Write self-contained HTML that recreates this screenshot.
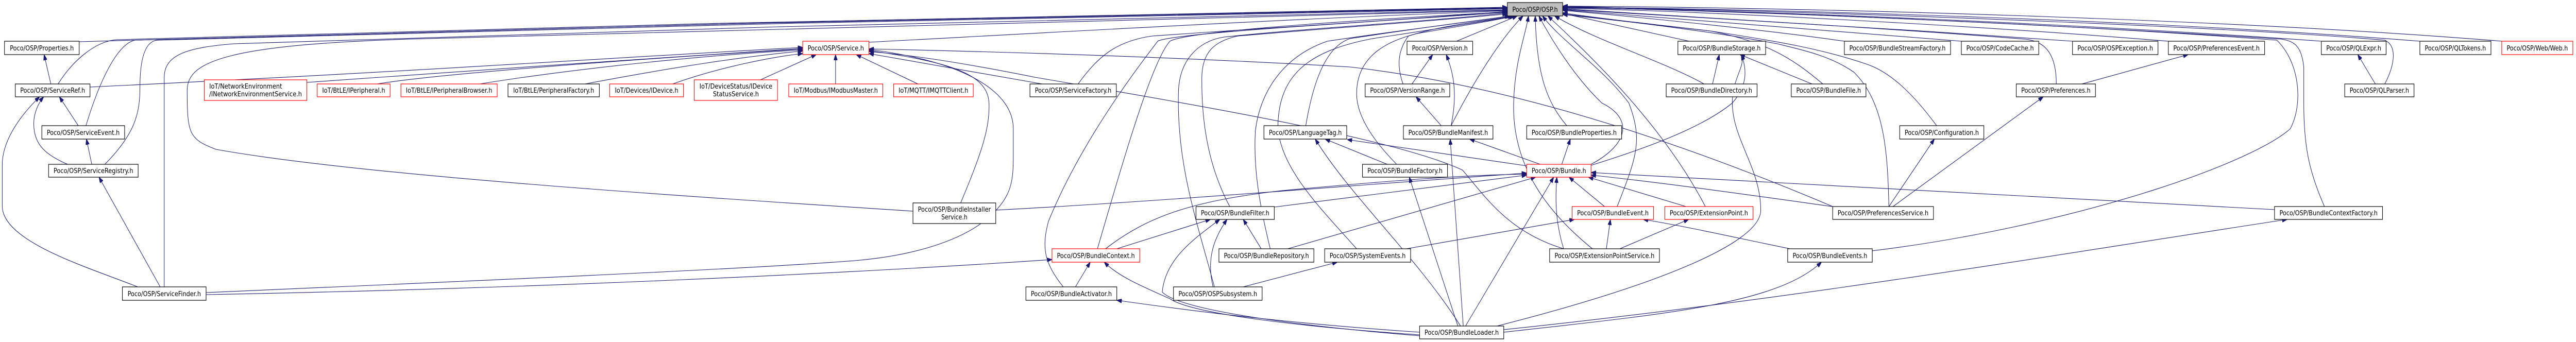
<!DOCTYPE html>
<html><head><meta charset="utf-8"><style>
html,body{margin:0;padding:0;background:#fff;width:100%;height:100%;overflow:hidden;}
svg{display:block;position:absolute;left:0;top:0;width:100vw;height:100vh;}
text{font-family:"DejaVu Sans","Liberation Sans",sans-serif;font-size:13px;fill:#000;}
.n{fill:#fff;stroke:#000;stroke-width:1.2;}
.r{fill:#fff;stroke:#ff0000;stroke-width:1.2;}
.g{fill:#bfbfbf;stroke:#000;stroke-width:1.2;}
path{fill:none;stroke:#191970;stroke-width:1.1;marker-end:url(#a);}
</style></head><body>
<svg viewBox="0 0 5725 664" preserveAspectRatio="none" xmlns="http://www.w3.org/2000/svg" overflow="hidden">
<defs><marker id="a" markerUnits="userSpaceOnUse" markerWidth="11" markerHeight="8" refX="11" refY="4" orient="auto"><polygon points="0,0 11,4 0,8" fill="#191970" stroke="#191970"/></marker></defs>
<g>
<path d="M176,81 C900,60 2500,25 3350,14"/>
<path d="M129,163 C160,120 210,80 260,77 C1200,50 2600,25 3350,15"/>
<path d="M191,244 C220,160 260,85 300,78 C1200,52 2600,26 3350,16"/>
<path d="M233,319 C300,260 311,220 311,170 C311,120 320,80 350,78 C1200,55 2600,27 3350,17"/>
<path d="M365,557 L365,150 C365,105 420,92 520,85 C1400,58 2600,30 3350,19"/>
<path d="M2029,410 C1500,380 800,340 480,290 C420,270 416,260 416,175 C416,120 500,85 950,75 C1800,55 2700,35 3350,20"/>
<path d="M1931,82 C2400,60 2900,35 3350,21"/>
<path d="M2396,163 C2440,110 2480,80 2560,70 C2800,55 3100,40 3350,22"/>
<path d="M2439,483 C2500,300 2560,120 2600,80 C2640,60 3000,40 3350,23"/>
<path d="M2363,557 C2320,510 2315,480 2330,430 C2400,280 2520,140 2573,80 C2600,65 3000,45 3350,24"/>
<path d="M2699,557 C2660,430 2615,320 2619,180 C2620,120 2660,80 2720,72 C2900,55 3200,40 3350,25"/>
<path d="M2733,401 C2690,330 2670,250 2671,150 C2672,100 2700,80 2750,70 C2950,55 3200,40 3350,27"/>
<path d="M2823,483 C2800,400 2785,330 2790,254 C2800,180 2850,110 2950,80 C3100,60 3250,45 3355,31"/>
<path d="M2902,244 C2920,150 2950,90 3000,75 C3150,55 3280,40 3358,31"/>
<path d="M3015,483 C2930,400 2850,330 2840,250 C2840,150 2900,100 3050,75 C3200,55 3300,42 3362,31"/>
<path d="M3104,319 C3060,280 3015,230 3015,182 C3015,110 3080,80 3150,65 C3250,50 3320,40 3365,31"/>
<path d="M3118,163 C3105,130 3105,100 3130,70 C3200,50 3300,40 3368,31"/>
<path d="M3237,80 L3372,31"/>
<path d="M3225,244 C3280,150 3340,70 3385,31"/>
<path d="M3539,483 C3450,420 3360,330 3364,200 C3366,120 3390,70 3397,31"/>
<path d="M3482,244 C3440,200 3415,150 3412,31"/>
<path d="M3594,401 C3640,300 3650,270 3620,200 C3560,130 3470,80 3428,31"/>
<path d="M3536,319 C3620,280 3630,230 3560,200 C3500,150 3450,80 3420,31"/>
<path d="M3790,401 C3700,250 3550,120 3440,31"/>
<path d="M3787,163 C3700,120 3550,80 3455,31"/>
<path d="M3754,80 C3650,60 3550,40 3473,26"/>
<path d="M4099,80 C3900,55 3600,30 3473,20"/>
<path d="M4359,80 C4000,55 3650,30 3473,19"/>
<path d="M4606,80 C4200,55 3700,28 3473,18"/>
<path d="M4051,163 C3980,110 3920,80 3800,60 C3650,45 3550,35 3473,25"/>
<path d="M4198,401 C4195,300 4190,200 4120,140 C4070,110 4020,100 3950,85 C3800,60 3600,40 3473,27"/>
<path d="M4304,244 C4250,180 4200,140 4150,125 C4050,95 3950,80 3800,60 C3650,45 3550,35 3473,28"/>
<path d="M4570,163 C4570,110 4550,80 4500,76 C4200,55 3700,30 3473,17"/>
<path d="M4819,80 C4400,50 3800,22 3473,16"/>
<path d="M5159,80 C4600,45 3900,20 3473,15"/>
<path d="M5378,80 C4800,40 4000,18 3473,14"/>
<path d="M5560,80 C5000,40 4100,15 3473,12"/>
<path d="M5300,163 C5320,130 5330,90 5300,78 C5000,55 4200,25 3473,13"/>
<path d="M5166,401 C5130,330 5120,280 5120,200 L5120,130 C5115,90 5100,80 5070,76 C4600,50 4000,25 3473,12"/>
<path d="M4161,487 C4600,440 5000,320 5090,250 C5120,200 5110,120 5060,78 C4600,48 4000,25 3473,14"/>
<path d="M200,169 C900,140 1400,110 1784,92"/>
<path d="M682,160 C1000,140 1500,110 1784,94"/>
<path d="M838,163 C1000,140 1500,110 1784,95"/>
<path d="M1066,163 C1300,130 1600,105 1784,97"/>
<path d="M1300,163 C1500,130 1650,110 1784,99"/>
<path d="M1495,163 C1600,130 1720,110 1784,104"/>
<path d="M1690,155 L1814,106"/>
<path d="M1857,163 L1857,106"/>
<path d="M2040,163 L1903,106"/>
<path d="M2316,163 L1931,104"/>
<path d="M2135,394 C2180,300 2200,250 2198,200 C2195,140 2100,120 1931,98"/>
<path d="M458,568 C1200,540 1700,520 1900,506 C2050,495 2150,460 2200,420 C2250,380 2252,350 2252,300 L2252,250 C2252,180 2150,120 1931,96"/>
<path d="M4073,401 C3800,300 3400,170 3000,130 C2600,110 2200,100 1931,95"/>
<path d="M3475,483 C3350,450 3300,380 3250,330 C3100,270 2700,210 2300,150 C2100,115 2000,105 1931,100"/>
<path d="M458,572 C1200,560 1900,530 2338,504"/>
<path d="M174,244 L132,188"/>
<path d="M150,319 C100,300 75,280 75,240 C75,220 85,200 97,188"/>
<path d="M306,557 C200,520 5,470 5,400 L5,320 C5,270 50,220 88,188"/>
<path d="M113,163 L98,106"/>
<path d="M204,319 L192,270"/>
<path d="M356,557 L220,344"/>
<path d="M3155,645 C2900,630 2700,610 2482,583"/>
<path d="M3155,650 C2900,635 2650,610 2600,580 C2550,560 2490,540 2454,509"/>
<path d="M3155,652 C2850,630 2620,600 2583,567 C2590,500 2660,460 2711,426"/>
<path d="M3246,633 C3150,500 3000,380 2923,270"/>
<path d="M3240,633 L3132,344"/>
<path d="M3252,633 L3223,270"/>
<path d="M3257,633 L3453,344"/>
<path d="M3342,640 C4000,580 4600,490 5083,426"/>
<path d="M3342,645 C3700,610 3950,590 4048,509"/>
<path d="M3327,633 C3700,550 3910,470 3913,410 C3915,330 3850,270 3850,200 C3850,150 3880,130 3870,106"/>
<path d="M2213,408 C2600,390 3000,360 3393,336"/>
<path d="M2457,483 C2550,420 2650,390 2850,370 C3100,350 3250,340 3393,338"/>
<path d="M2832,402 L3393,340"/>
<path d="M2862,483 L3413,344"/>
<path d="M3566,401 L3487,344"/>
<path d="M3747,401 L3530,344"/>
<path d="M3475,483 C3460,440 3455,400 3460,344"/>
<path d="M4072,401 C3900,380 3700,355 3536,340"/>
<path d="M5055,407 C4500,380 4000,355 3536,335"/>
<path d="M3393,322 L2994,271"/>
<path d="M3423,319 L3266,270"/>
<path d="M3471,319 L3490,270"/>
<path d="M3536,321 C3650,290 3780,250 3850,200 C3880,170 3885,140 3870,106"/>
<path d="M3083,319 L2945,270"/>
<path d="M2482,483 L2690,426"/>
<path d="M2696,557 C2680,500 2700,460 2727,426"/>
<path d="M2803,483 L2763,426"/>
<path d="M2390,557 L2423,509"/>
<path d="M2763,557 L2972,509"/>
<path d="M3126,483 L3499,426"/>
<path d="M3570,483 L3579,426"/>
<path d="M3600,483 L3753,426"/>
<path d="M3978,483 C3850,460 3750,440 3652,426"/>
<path d="M3138,163 L3184,106"/>
<path d="M3225,244 C3240,180 3230,140 3214,106"/>
<path d="M3203,244 L3147,188"/>
<path d="M3806,163 L3821,106"/>
<path d="M4027,163 L3867,106"/>
<path d="M4198,401 L4299,270"/>
<path d="M4207,401 L4541,188"/>
<path d="M4627,163 L4863,106"/>
<path d="M5279,163 L5240,106"/>
</g>
<g>
<rect class="g" x="3350" y="5" width="123" height="26"/><text x="3411.5" y="23" text-anchor="middle" textLength="101" lengthAdjust="spacingAndGlyphs">Poco/OSP/OSP.h</text>
<rect class="n" x="10" y="80" width="166" height="26"/><text x="93" y="98" text-anchor="middle" textLength="142" lengthAdjust="spacingAndGlyphs">Poco/OSP/Properties.h</text>
<rect class="n" x="34" y="163" width="166" height="25"/><text x="117" y="180" text-anchor="middle" textLength="144" lengthAdjust="spacingAndGlyphs">Poco/OSP/ServiceRef.h</text>
<rect class="n" x="93" y="244" width="184" height="26"/><text x="185" y="262" text-anchor="middle" textLength="162" lengthAdjust="spacingAndGlyphs">Poco/OSP/ServiceEvent.h</text>
<rect class="n" x="108" y="319" width="199" height="25"/><text x="207.5" y="336" text-anchor="middle" textLength="177" lengthAdjust="spacingAndGlyphs">Poco/OSP/ServiceRegistry.h</text>
<rect class="n" x="272" y="557" width="186" height="26"/><text x="365" y="575" text-anchor="middle" textLength="163" lengthAdjust="spacingAndGlyphs">Poco/OSP/ServiceFinder.h</text>
<rect class="r" x="454" y="155" width="228" height="40"/><text x="465" y="172" textLength="162" lengthAdjust="spacingAndGlyphs">IoT/NetworkEnvironment</text><text x="465" y="187" textLength="206" lengthAdjust="spacingAndGlyphs">/INetworkEnvironmentService.h</text>
<rect class="r" x="705" y="163" width="162" height="25"/><text x="786" y="180" text-anchor="middle" textLength="140" lengthAdjust="spacingAndGlyphs">IoT/BtLE/IPeripheral.h</text>
<rect class="r" x="891" y="163" width="214" height="25"/><text x="998" y="180" text-anchor="middle" textLength="192" lengthAdjust="spacingAndGlyphs">IoT/BtLE/IPeripheralBrowser.h</text>
<rect class="n" x="1129" y="163" width="203" height="25"/><text x="1230.5" y="180" text-anchor="middle" textLength="180" lengthAdjust="spacingAndGlyphs">IoT/BtLE/PeripheralFactory.h</text>
<rect class="r" x="1355" y="163" width="164" height="25"/><text x="1437" y="180" text-anchor="middle" textLength="141" lengthAdjust="spacingAndGlyphs">IoT/Devices/IDevice.h</text>
<rect class="r" x="1543" y="155" width="185" height="40"/><text x="1635.5" y="172" text-anchor="middle" textLength="162" lengthAdjust="spacingAndGlyphs">IoT/DeviceStatus/IDevice</text><text x="1635.5" y="187" text-anchor="middle" textLength="102" lengthAdjust="spacingAndGlyphs">StatusService.h</text>
<rect class="r" x="1753" y="163" width="209" height="25"/><text x="1857.5" y="180" text-anchor="middle" textLength="187" lengthAdjust="spacingAndGlyphs">IoT/Modbus/IModbusMaster.h</text>
<rect class="r" x="1784" y="80" width="147" height="26"/><text x="1857.5" y="98" text-anchor="middle" textLength="125" lengthAdjust="spacingAndGlyphs">Poco/OSP/Service.h</text>
<rect class="r" x="1986" y="163" width="177" height="25"/><text x="2074.5" y="180" text-anchor="middle" textLength="155" lengthAdjust="spacingAndGlyphs">IoT/MQTT/IMQTTClient.h</text>
<rect class="n" x="2289" y="163" width="192" height="25"/><text x="2385" y="180" text-anchor="middle" textLength="170" lengthAdjust="spacingAndGlyphs">Poco/OSP/ServiceFactory.h</text>
<rect class="n" x="2029" y="394" width="184" height="40"/><text x="2121" y="411" text-anchor="middle" textLength="162" lengthAdjust="spacingAndGlyphs">Poco/OSP/BundleInstaller</text><text x="2121" y="426" text-anchor="middle" textLength="58" lengthAdjust="spacingAndGlyphs">Service.h</text>
<rect class="r" x="2338" y="483" width="195" height="26"/><text x="2435.5" y="501" text-anchor="middle" textLength="173" lengthAdjust="spacingAndGlyphs">Poco/OSP/BundleContext.h</text>
<rect class="n" x="2280" y="557" width="202" height="26"/><text x="2381" y="575" text-anchor="middle" textLength="180" lengthAdjust="spacingAndGlyphs">Poco/OSP/BundleActivator.h</text>
<rect class="n" x="2658" y="401" width="174" height="25"/><text x="2745" y="418" text-anchor="middle" textLength="152" lengthAdjust="spacingAndGlyphs">Poco/OSP/BundleFilter.h</text>
<rect class="n" x="2709" y="483" width="211" height="26"/><text x="2814.5" y="501" text-anchor="middle" textLength="189" lengthAdjust="spacingAndGlyphs">Poco/OSP/BundleRepository.h</text>
<rect class="n" x="2608" y="557" width="197" height="26"/><text x="2706.5" y="575" text-anchor="middle" textLength="175" lengthAdjust="spacingAndGlyphs">Poco/OSP/OSPSubsystem.h</text>
<rect class="n" x="2809" y="244" width="184" height="26"/><text x="2901" y="262" text-anchor="middle" textLength="162" lengthAdjust="spacingAndGlyphs">Poco/OSP/LanguageTag.h</text>
<rect class="n" x="3127" y="80" width="146" height="26"/><text x="3200" y="98" text-anchor="middle" textLength="124" lengthAdjust="spacingAndGlyphs">Poco/OSP/Version.h</text>
<rect class="n" x="3034" y="163" width="188" height="25"/><text x="3128" y="180" text-anchor="middle" textLength="166" lengthAdjust="spacingAndGlyphs">Poco/OSP/VersionRange.h</text>
<rect class="n" x="3119" y="244" width="199" height="26"/><text x="3218.5" y="262" text-anchor="middle" textLength="177" lengthAdjust="spacingAndGlyphs">Poco/OSP/BundleManifest.h</text>
<rect class="n" x="3393" y="244" width="211" height="26"/><text x="3498.5" y="262" text-anchor="middle" textLength="189" lengthAdjust="spacingAndGlyphs">Poco/OSP/BundleProperties.h</text>
<rect class="n" x="3028" y="319" width="189" height="25"/><text x="3122.5" y="336" text-anchor="middle" textLength="167" lengthAdjust="spacingAndGlyphs">Poco/OSP/BundleFactory.h</text>
<rect class="r" x="3393" y="319" width="143" height="25"/><text x="3464.5" y="336" text-anchor="middle" textLength="121" lengthAdjust="spacingAndGlyphs">Poco/OSP/Bundle.h</text>
<rect class="r" x="3494" y="401" width="181" height="25"/><text x="3584.5" y="418" text-anchor="middle" textLength="159" lengthAdjust="spacingAndGlyphs">Poco/OSP/BundleEvent.h</text>
<rect class="r" x="3700" y="401" width="196" height="25"/><text x="3798" y="418" text-anchor="middle" textLength="174" lengthAdjust="spacingAndGlyphs">Poco/OSP/ExtensionPoint.h</text>
<rect class="n" x="2944" y="483" width="191" height="26"/><text x="3039.5" y="501" text-anchor="middle" textLength="169" lengthAdjust="spacingAndGlyphs">Poco/OSP/SystemEvents.h</text>
<rect class="n" x="3444" y="483" width="244" height="26"/><text x="3566" y="501" text-anchor="middle" textLength="222" lengthAdjust="spacingAndGlyphs">Poco/OSP/ExtensionPointService.h</text>
<rect class="n" x="3155" y="633" width="187" height="25"/><text x="3248.5" y="650" text-anchor="middle" textLength="165" lengthAdjust="spacingAndGlyphs">Poco/OSP/BundleLoader.h</text>
<rect class="n" x="3729" y="80" width="195" height="26"/><text x="3826.5" y="98" text-anchor="middle" textLength="173" lengthAdjust="spacingAndGlyphs">Poco/OSP/BundleStorage.h</text>
<rect class="n" x="3703" y="163" width="202" height="25"/><text x="3804" y="180" text-anchor="middle" textLength="180" lengthAdjust="spacingAndGlyphs">Poco/OSP/BundleDirectory.h</text>
<rect class="n" x="4099" y="80" width="236" height="26"/><text x="4217" y="98" text-anchor="middle" textLength="214" lengthAdjust="spacingAndGlyphs">Poco/OSP/BundleStreamFactory.h</text>
<rect class="n" x="4359" y="80" width="172" height="26"/><text x="4445" y="98" text-anchor="middle" textLength="150" lengthAdjust="spacingAndGlyphs">Poco/OSP/CodeCache.h</text>
<rect class="n" x="4606" y="80" width="190" height="26"/><text x="4701" y="98" text-anchor="middle" textLength="168" lengthAdjust="spacingAndGlyphs">Poco/OSP/OSPException.h</text>
<rect class="n" x="3981" y="163" width="166" height="25"/><text x="4064" y="180" text-anchor="middle" textLength="144" lengthAdjust="spacingAndGlyphs">Poco/OSP/BundleFile.h</text>
<rect class="n" x="4481" y="163" width="176" height="25"/><text x="4569" y="180" text-anchor="middle" textLength="154" lengthAdjust="spacingAndGlyphs">Poco/OSP/Preferences.h</text>
<rect class="n" x="4222" y="244" width="187" height="26"/><text x="4315.5" y="262" text-anchor="middle" textLength="165" lengthAdjust="spacingAndGlyphs">Poco/OSP/Configuration.h</text>
<rect class="n" x="4073" y="401" width="224" height="25"/><text x="4185" y="418" text-anchor="middle" textLength="202" lengthAdjust="spacingAndGlyphs">Poco/OSP/PreferencesService.h</text>
<rect class="n" x="3973" y="483" width="188" height="26"/><text x="4067" y="501" text-anchor="middle" textLength="166" lengthAdjust="spacingAndGlyphs">Poco/OSP/BundleEvents.h</text>
<rect class="n" x="4819" y="80" width="214" height="26"/><text x="4926" y="98" text-anchor="middle" textLength="192" lengthAdjust="spacingAndGlyphs">Poco/OSP/PreferencesEvent.h</text>
<rect class="n" x="5159" y="80" width="144" height="26"/><text x="5231" y="98" text-anchor="middle" textLength="122" lengthAdjust="spacingAndGlyphs">Poco/OSP/QLExpr.h</text>
<rect class="n" x="5378" y="80" width="158" height="26"/><text x="5457" y="98" text-anchor="middle" textLength="136" lengthAdjust="spacingAndGlyphs">Poco/OSP/QLTokens.h</text>
<rect class="r" x="5560" y="80" width="158" height="26"/><text x="5639" y="98" text-anchor="middle" textLength="136" lengthAdjust="spacingAndGlyphs">Poco/OSP/Web/Web.h</text>
<rect class="n" x="5211" y="163" width="154" height="25"/><text x="5288" y="180" text-anchor="middle" textLength="132" lengthAdjust="spacingAndGlyphs">Poco/OSP/QLParser.h</text>
<rect class="n" x="5055" y="401" width="240" height="25"/><text x="5175" y="418" text-anchor="middle" textLength="218" lengthAdjust="spacingAndGlyphs">Poco/OSP/BundleContextFactory.h</text>
</g>
</svg>
</body></html>
